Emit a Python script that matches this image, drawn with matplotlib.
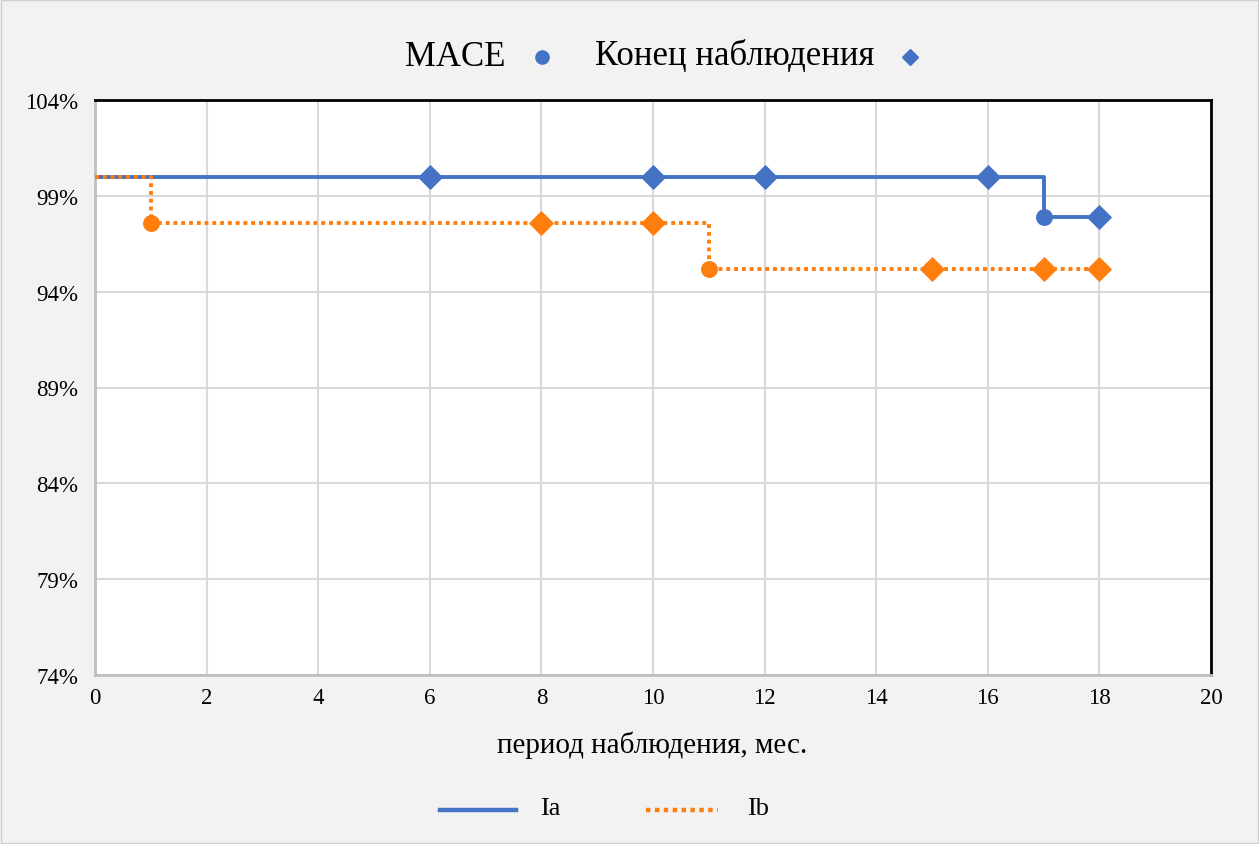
import matplotlib
matplotlib.use("Agg")
import matplotlib.pyplot as plt
from matplotlib.lines import Line2D
from matplotlib.patches import Rectangle
import numpy as np

# ---- data ----
ia_times = [0, 17, 18]
ia_surv = [100.0, 97.9, 97.9]
ia_event_t = [17]
ia_event_s = [97.9]
ia_cens_t = [6, 10, 12, 16, 18]
ia_cens_s = [100.0, 100.0, 100.0, 100.0, 97.9]

ib_times = [0, 1, 11, 18]
ib_surv = [100.0, 97.6, 95.2, 95.2]
ib_event_t = [1, 11]
ib_event_s = [97.6, 95.2]
ib_cens_t = [8, 10, 15, 17, 18]
ib_cens_s = [97.6, 97.6, 95.2, 95.2, 95.2]

y_ticks = [74, 79, 84, 89, 94, 99, 104]
x_ticks = list(range(0, 21, 2))
series_labels = ["Ia", "Ib"]
marker_labels = ["MACE", "Конец наблюдения"]
x_label = "период наблюдения, мес."

BLUE = "#4472C4"
ORANGE = "#FF7F0E"
W, H = 1259, 845

plt.rcParams['font.family'] = ['Liberation Serif', 'DejaVu Serif']

fig = plt.figure(figsize=(W/100, H/100), dpi=100, facecolor="#F2F2F2")
fig.patches.append(Rectangle((0.0005, 0.0008), 0.999, 0.998, transform=fig.transFigure,
                             fill=False, edgecolor="#D0D0D0", linewidth=1))
ax = fig.add_axes([95/W, 1-676/H, (1211-95)/W, (676-101)/H])
ax.set_facecolor("white")

ax.set_xlim(0, 20)
ax.set_ylim(74, 104)
ax.set_xticks(x_ticks)
ax.set_yticks(y_ticks)
ax.set_yticklabels([f"{v}%" for v in y_ticks])
ax.grid(True, color="#D9D9D9", linewidth=1.5)
ax.set_axisbelow(True)
ax.tick_params(length=0, labelsize=16.5)
ax.tick_params(axis="y", pad=12)
ax.tick_params(axis="x", pad=9)
for s in ["top", "right"]:
    ax.spines[s].set_color("black")
    ax.spines[s].set_linewidth(2)
for s in ["left", "bottom"]:
    ax.spines[s].set_color("#BFBFBF")
    ax.spines[s].set_linewidth(2)

ax.step(ia_times, ia_surv, where="post", color=BLUE, linewidth=2.8, zorder=3)
ax.step(ib_times, ib_surv, where="post", color=ORANGE, linewidth=2.8,
        linestyle=(0, (1, 1)), zorder=4)

ax.scatter(ia_event_t, ia_event_s, marker="o", s=125, color=BLUE, zorder=5)
ax.scatter(ia_cens_t, ia_cens_s, marker="D", s=140, color=BLUE, zorder=5)
ax.scatter(ib_event_t, ib_event_s, marker="o", s=125, color=ORANGE, zorder=5)
ax.scatter(ib_cens_t, ib_cens_s, marker="D", s=140, color=ORANGE, zorder=5)

fig.text(652/W, 1-745/H, x_label, fontsize=21, ha="center", va="center")

# top legend (markers after text)
fig.text(405/W, 1-57/H, marker_labels[0], fontsize=25, ha="left", va="center")
fig.add_artist(Line2D([542/W], [1-58/H], transform=fig.transFigure, linestyle="none",
                      marker="o", color=BLUE, markersize=9.5))
fig.text(874/W, 1-57/H, marker_labels[1], fontsize=25, ha="right", va="center")
fig.add_artist(Line2D([910/W], [1-58/H], transform=fig.transFigure, linestyle="none",
                      marker="D", color=BLUE, markersize=8))

# bottom legend
fig.add_artist(Line2D([440/W, 516/W], [1-811/H, 1-811/H], transform=fig.transFigure,
                      color=BLUE, linewidth=3.2))
fig.text(540/W, 1-809/H, series_labels[0], fontsize=19, ha="left", va="center")
fig.add_artist(Line2D([646/W, 718/W], [1-811/H, 1-811/H], transform=fig.transFigure,
                      color=ORANGE, linewidth=3.2, linestyle=(0, (1, 1))))
fig.text(747/W, 1-809/H, series_labels[1], fontsize=19, ha="left", va="center")

fig.savefig("out.png", dpi=100, facecolor=fig.get_facecolor())
